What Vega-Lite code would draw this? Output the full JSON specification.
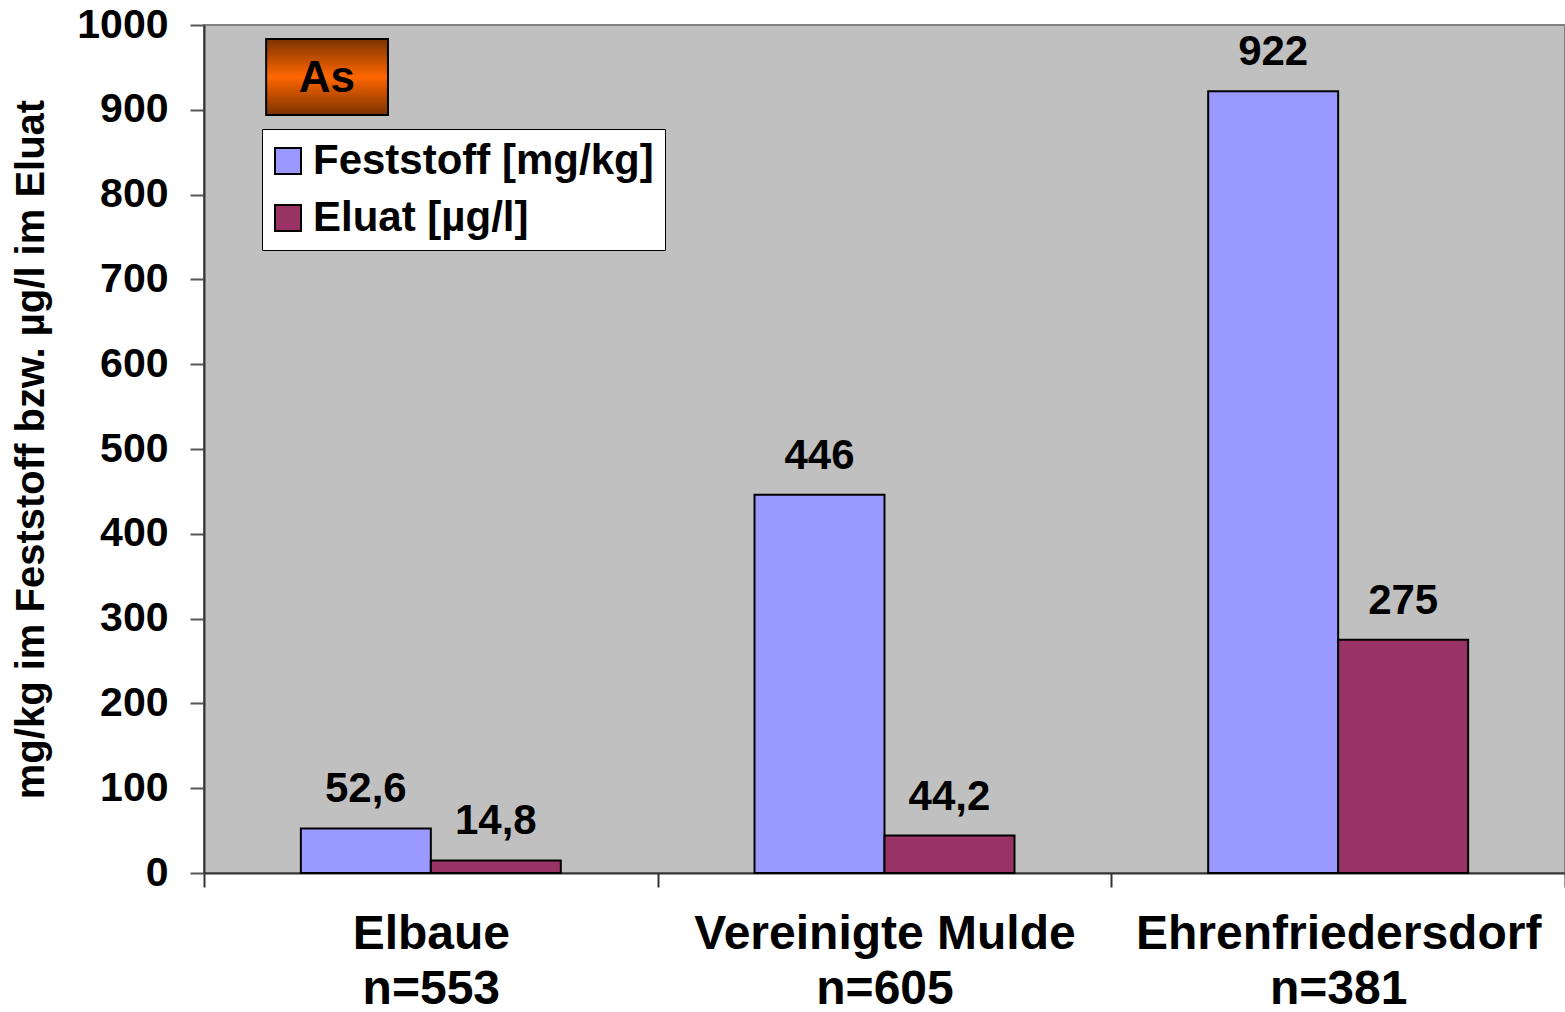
{
  "$schema": "https://vega.github.io/schema/vega-lite/v6.json",
  "autosize": "none",
  "padding": {"left": 204, "top": 25, "right": 0, "bottom": 139},
  "width": 1361,
  "height": 848,
  "background": "#ffffff",
  "config": {
    "view": {"fill": "#C0C0C0", "stroke": "#808080", "strokeWidth": 2},
    "font": "Liberation Sans",
    "locale": {"number": {"decimal": ",", "thousands": ".", "grouping": [3], "currency": ["", " €"]}}
  },
  "datasets": {
    "bars": [
      {"site": "Elbaue\nn=553", "series": "Feststoff [mg/kg]", "value": 52.6},
      {"site": "Elbaue\nn=553", "series": "Eluat [µg/l]", "value": 14.8},
      {"site": "Vereinigte Mulde\nn=605", "series": "Feststoff [mg/kg]", "value": 446},
      {"site": "Vereinigte Mulde\nn=605", "series": "Eluat [µg/l]", "value": 44.2},
      {"site": "Ehrenfriedersdorf\nn=381", "series": "Feststoff [mg/kg]", "value": 922},
      {"site": "Ehrenfriedersdorf\nn=381", "series": "Eluat [µg/l]", "value": 275}
    ],
    "badge": [{"text": "As", "site": "Elbaue\nn=553", "top": 983.5, "bottom": 893.9, "mid": 936}]
  },
  "layer": [
    {
      "data": {"name": "bars"},
      "mark": {"type": "bar", "stroke": "#000000", "strokeWidth": 2},
      "encoding": {
        "x": {
          "field": "site", "type": "nominal",
          "sort": ["Elbaue\nn=553", "Vereinigte Mulde\nn=605", "Ehrenfriedersdorf\nn=381"],
          "scale": {"paddingInner": 0, "paddingOuter": 0},
          "axis": {
            "title": null, "labelAngle": 0, "tickBand": "extent",
            "labelExpr": "isString(datum.value) ? split(datum.value, '\\n') : ''",
            "labelFont": "Liberation Sans", "labelFontWeight": "bold", "labelFontSize": 48,
            "labelColor": "#000000", "labelLineHeight": 55, "labelBaseline": "top",
            "labelPadding": 23, "labelLimit": 0, "labelOverlap": false, "labelDx": -10,
            "tickSize": 14, "tickWidth": 2, "tickColor": "#333333",
            "domainColor": "#333333", "domainWidth": 2, "grid": false
          }
        },
        "xOffset": {
          "field": "series", "type": "nominal",
          "sort": ["Feststoff [mg/kg]", "Eluat [µg/l]"],
          "scale": {"paddingInner": 0, "paddingOuter": 0.745}
        },
        "y": {
          "field": "value", "type": "quantitative",
          "scale": {"domain": [0, 1000], "nice": false},
          "axis": {
            "title": "mg/kg im Feststoff bzw. µg/l im Eluat",
            "titleFont": "Liberation Sans", "titleFontWeight": "bold", "titleFontSize": 40,
            "titleColor": "#000000", "titlePadding": 25,
            "values": [0, 100, 200, 300, 400, 500, 600, 700, 800, 900, 1000],
            "format": "d",
            "labelFont": "Liberation Sans", "labelFontWeight": "bold", "labelFontSize": 41,
            "labelColor": "#000000", "labelPadding": 22,
            "tickSize": 14, "tickWidth": 2, "tickColor": "#555555",
            "domainColor": "#333333", "domainWidth": 2, "grid": false
          }
        },
        "color": {
          "field": "series", "type": "nominal",
          "scale": {"domain": ["Feststoff [mg/kg]", "Eluat [µg/l]"], "range": ["#9999FF", "#993366"]},
          "legend": {
            "title": null, "orient": "none", "legendX": 58, "legendY": 104,
            "fillColor": "#ffffff", "strokeColor": "#000000", "padding": 11,
            "symbolType": "square", "symbolSize": 676, "symbolStrokeColor": "#000000",
            "symbolStrokeWidth": 2, "symbolOpacity": 1, "symbolOffset": -6,
            "labelFont": "Liberation Sans", "labelFontWeight": "bold", "labelFontSize": 42,
            "labelColor": "#000000", "labelOffset": 4, "rowPadding": 15, "labelLimit": 600
          }
        }
      }
    },
    {
      "data": {"name": "bars"},
      "mark": {"type": "text", "font": "Liberation Sans", "fontWeight": "bold", "fontSize": 42, "color": "#000000", "baseline": "alphabetic", "dy": -26},
      "encoding": {
        "x": {"field": "site", "type": "nominal", "sort": ["Elbaue\nn=553", "Vereinigte Mulde\nn=605", "Ehrenfriedersdorf\nn=381"]},
        "xOffset": {"field": "series", "type": "nominal", "sort": ["Feststoff [mg/kg]", "Eluat [µg/l]"]},
        "y": {"field": "value", "type": "quantitative"},
        "text": {"field": "value", "type": "quantitative", "format": ".3~r"}
      }
    },
    {
      "data": {"name": "badge"},
      "mark": {
        "type": "rect", "stroke": "#000000", "strokeWidth": 2,
        "fill": {"gradient": "linear", "x1": 0, "y1": 0, "x2": 0, "y2": 1,
          "stops": [{"offset": 0, "color": "#7a3300"}, {"offset": 0.5, "color": "#ff6600"}, {"offset": 1, "color": "#7a3300"}]}
      },
      "encoding": {
        "x": {"field": "site", "type": "nominal", "bandPosition": 0.137, "sort": ["Elbaue\nn=553", "Vereinigte Mulde\nn=605", "Ehrenfriedersdorf\nn=381"]},
        "x2": {"datum": "Elbaue\nn=553", "bandPosition": 0.4055},
        "y": {"field": "top", "type": "quantitative"},
        "y2": {"field": "bottom"}
      }
    },
    {
      "data": {"name": "badge"},
      "mark": {"type": "text", "font": "Liberation Sans", "fontWeight": "bold", "fontSize": 44, "color": "#000000", "baseline": "middle", "align": "center"},
      "encoding": {
        "x": {"field": "site", "type": "nominal", "bandPosition": 0.271, "sort": ["Elbaue\nn=553", "Vereinigte Mulde\nn=605", "Ehrenfriedersdorf\nn=381"]},
        "y": {"field": "mid", "type": "quantitative"},
        "text": {"field": "text"}
      }
    }
  ]
}
